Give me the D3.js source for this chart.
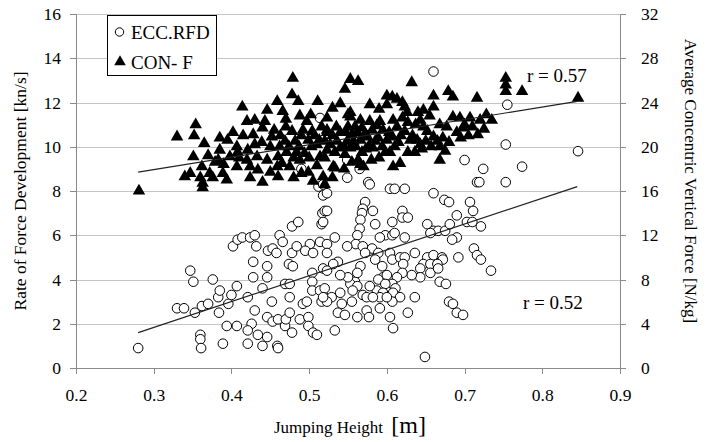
<!DOCTYPE html>
<html>
<head>
<meta charset="utf-8">
<script src="https://cdn.jsdelivr.net/npm/d3@7"></script>
<style>
    body { margin: 0; background: #fff; }
    svg text { font-family: "Liberation Serif", "Times New Roman", serif; fill: #000; }
    .grid line { stroke: #c4c4c4; stroke-width: 1; }
    .axis path, .axis line { stroke: #8a8a8a; stroke-width: 1; shape-rendering: crispEdges; }
    .axis text { font-size: 17.5px; font-family: "Liberation Serif", serif; }
</style>
</head>
<body>
<div id="chart"></div>
<script>
// ECC.RFD: jumping height [m], rate of force development [kN/s] (left axis)
const eccPoints = [
    [0.28,0.9],[0.347,4.4],[0.351,3.9],[0.33,2.7],[0.339,2.7],[0.353,2.5],[0.362,2.8],[0.37,2.9],[0.376,4.0],
    [0.383,3.2],[0.385,3.5],[0.384,2.5],[0.396,2.9],[0.40,3.3],[0.407,3.7],[0.36,1.5],[0.36,1.3],[0.361,0.9],
    [0.389,1.1],[0.394,1.9],[0.407,1.9],[0.402,5.5],[0.408,5.8],[0.414,5.9],[0.424,5.9],[0.43,6.0],[0.432,5.5],
    [0.428,4.8],[0.428,4.1],[0.421,3.2],[0.43,2.6],[0.426,2.0],[0.421,1.7],[0.434,1.5],[0.421,1.1],[0.44,1.0],
    [0.446,1.4],[0.44,3.6],[0.446,2.3],[0.452,3.0],[0.446,4.6],[0.446,4.1],[0.447,5.3],[0.453,5.4],[0.458,5.2],
    [0.462,6.0],[0.466,5.7],[0.453,2.1],[0.46,2.2],[0.459,1.0],[0.46,0.9],[0.469,1.9],[0.47,2.2],[0.475,2.5],
    [0.478,1.6],[0.469,3.8],[0.475,3.8],[0.475,3.2],[0.474,4.7],[0.479,4.6],[0.478,5.2],[0.484,5.5],[0.478,6.4],
    [0.486,6.6],[0.488,2.2],[0.492,2.9],[0.497,3.0],[0.499,2.3],[0.499,1.9],[0.505,1.6],[0.51,1.5],[0.501,5.6],
    [0.495,5.3],[0.505,5.2],[0.504,4.3],[0.504,3.9],[0.504,3.5],[0.514,5.7],[0.516,6.5],[0.517,7.0],[0.52,7.1],
    [0.518,7.8],[0.512,8.2],[0.518,4.5],[0.514,3.5],[0.516,3.0],[0.52,3.2],
    [0.70,9.4],[0.716,8.4],[0.549,8.6],[0.576,8.4],[0.604,8.1],[0.61,8.1],[0.623,8.1],[0.66,7.9],[0.674,7.6],
    [0.68,7.5],[0.707,7.5],[0.711,7.1],[0.69,6.9],[0.69,5.9],[0.703,6.6],[0.523,7.9],[0.518,8.3],[0.523,7.1],
    [0.518,6.6],[0.572,7.5],[0.569,7.2],[0.568,7.0],[0.566,6.7],[0.565,6.3],[0.582,7.1],[0.562,6.0],[0.56,5.6],
    [0.569,5.5],[0.585,6.5],[0.62,7.1],[0.62,6.8],[0.627,6.8],[0.607,6.6],[0.598,6.0],[0.607,6.0],[0.61,6.1],
    [0.623,5.9],[0.591,5.9],[0.533,5.9],[0.523,5.6],[0.549,5.5],[0.523,5.2],[0.581,5.4],[0.589,5.2],[0.572,5.2],
    [0.585,4.9],[0.604,5.2],[0.607,4.9],[0.617,5.0],[0.623,5.0],[0.636,5.2],[0.652,6.5],[0.66,6.2],[0.666,6.2],
    [0.675,6.2],[0.656,6.1],[0.681,6.5],[0.684,5.8],[0.692,5.0],[0.652,5.0],[0.66,5.1],[0.671,5.0],[0.672,4.9],
    [0.647,4.7],[0.656,4.7],[0.665,4.7],[0.643,4.5],[0.643,4.1],[0.656,4.3],[0.666,4.5],[0.668,3.9],[0.676,3.8],
    [0.632,4.2],[0.621,4.7],[0.62,4.3],[0.613,4.1],[0.607,3.8],[0.611,3.6],[0.608,3.4],[0.617,3.2],[0.607,3.0],
    [0.636,3.2],[0.627,2.5],[0.604,2.3],[0.608,1.8],[0.649,0.5],[0.68,3.0],[0.685,2.9],[0.69,2.5],[0.698,2.4],
    [0.594,4.6],[0.595,4.1],[0.589,4.0],[0.6,4.2],[0.598,3.8],[0.587,3.5],[0.595,3.4],[0.591,3.2],[0.6,3.2],
    [0.591,2.7],[0.578,3.7],[0.569,3.3],[0.574,3.2],[0.582,3.2],[0.559,3.9],[0.553,3.8],[0.562,3.7],[0.556,3.5],
    [0.566,4.6],[0.562,4.3],[0.55,4.1],[0.54,4.2],[0.537,4.8],[0.531,4.7],[0.523,4.4],[0.52,3.6],[0.529,3.2],
    [0.523,3.0],[0.542,2.9],[0.537,2.5],[0.546,2.4],[0.562,2.3],[0.574,2.6],[0.577,2.3],[0.533,1.7],[0.518,3.2],
    [0.54,3.4],[0.555,3.0],
    [0.753,10.1],[0.846,9.8],[0.774,9.1],[0.724,9.0],[0.719,8.4],[0.753,8.4],[0.71,6.6],[0.721,6.4],[0.712,5.4],
    [0.716,5.1],[0.721,4.9],[0.734,4.4],[0.755,11.9],[0.66,13.4],[0.578,8.3],[0.565,9.0],[0.514,11.3],[0.549,9.4],
    [0.49,9.0]
];

// CON-F: jumping height [m], average concentric vertical force [N/kg] (right axis)
const conPoints = [
    [0.281,16.0],[0.33,20.9],[0.352,21.0],[0.354,22.0],[0.351,19.1],[0.34,17.3],[0.347,17.6],[0.362,18.2],
    [0.36,17.2],[0.363,16.7],[0.363,16.3],[0.372,17.6],[0.379,18.6],[0.385,19.7],[0.385,20.8],[0.383,18.8],
    [0.376,17.2],[0.389,17.6],[0.394,17.0],[0.398,19.1],[0.402,21.3],[0.407,20.0],[0.408,19.5],[0.407,18.2],
    [0.414,23.6],[0.421,19.7],[0.42,18.8],[0.424,18.2],[0.424,17.2],[0.428,21.1],[0.43,22.4],[0.433,19.1],
    [0.434,17.9],[0.44,16.8],[0.446,23.3],[0.443,22.3],[0.44,21.7],[0.439,20.4],[0.446,18.8],[0.45,17.7],
    [0.45,20.0],[0.452,20.9],[0.459,24.1],[0.466,23.2],[0.462,20.0],[0.46,19.1],[0.459,18.2],[0.46,17.3],
    [0.469,20.5],[0.471,19.5],[0.475,18.2],[0.479,26.2],[0.478,24.7],[0.486,24.1],[0.478,21.4],[0.482,20.5],
    [0.484,19.5],[0.488,18.8],[0.492,21.5],[0.497,22.3],[0.499,20.6],[0.499,17.7],[0.504,21.4],[0.51,20.2],
    [0.511,24.1],[0.514,19.1],[0.518,17.3],[0.523,21.3],
    [0.546,25.2],[0.553,26.1],[0.563,25.9],[0.55,22.9],[0.523,22.6],
    [0.632,25.8],[0.578,23.8],[0.553,23.1],[0.607,24.5],[0.613,24.3],[0.62,24.0],[0.623,23.6],[0.6,23.8],
    [0.626,23.1],[0.66,24.6],[0.66,23.6],[0.647,23.3],[0.64,23.1],[0.679,25.0],[0.685,24.5],[0.716,24.4],
    [0.685,22.7],[0.694,22.6],[0.707,22.6],[0.72,22.4],[0.735,22.4],[0.698,21.7],[0.705,21.0],[0.717,21.1],
    [0.668,22.0],[0.677,21.8],[0.66,20.9],[0.665,20.5],[0.668,20.0],[0.668,18.8],[0.643,22.4],[0.647,21.8],
    [0.652,21.4],[0.639,20.6],[0.643,20.2],[0.636,19.5],[0.627,19.5],[0.63,20.6],[0.623,21.4],[0.627,22.2],
    [0.608,22.4],[0.613,21.8],[0.607,20.9],[0.61,20.0],[0.604,19.5],[0.608,18.2],[0.617,18.5],[0.591,22.3],
    [0.595,21.5],[0.589,20.8],[0.594,20.0],[0.598,19.5],[0.578,22.3],[0.581,21.5],[0.575,20.9],[0.578,20.2],
    [0.582,19.9],[0.566,22.4],[0.568,21.7],[0.562,21.3],[0.566,20.6],[0.56,20.0],[0.568,19.5],[0.563,18.8],
    [0.57,18.2],[0.553,22.7],[0.55,21.8],[0.555,21.1],[0.549,20.5],[0.553,19.9],[0.546,19.3],[0.54,21.3],
    [0.536,20.5],[0.54,19.9],[0.533,19.5],[0.531,18.2],[0.523,21.5],[0.52,20.5],[0.523,19.7],[0.533,18.1],
    [0.566,18.4],
    [0.753,26.2],[0.753,25.6],[0.753,25.0],[0.774,25.0],[0.846,24.4],
    // inside the dense band
    [0.455,21.5],[0.463,21.0],[0.47,21.8],[0.474,20.0],[0.48,19.0],[0.487,20.0],[0.49,21.0],[0.494,19.4],
    [0.5,19.0],[0.503,20.0],[0.507,21.0],[0.513,20.6],[0.516,21.8],[0.52,19.0],[0.527,20.2],[0.53,21.0],
    [0.535,21.8],[0.545,20.0],[0.547,21.3],[0.557,20.5],[0.559,21.8],[0.572,21.2],[0.573,19.8],[0.585,20.5],
    [0.587,21.9],[0.6,20.6],[0.603,21.3],[0.615,20.4],[0.618,21.0],[0.62,22.6],[0.633,21.0],[0.637,22.0],
    [0.645,19.8],[0.65,20.5],[0.655,22.8],[0.657,20.0],[0.672,20.8],[0.675,19.6],[0.68,20.4],[0.69,21.3],
    [0.695,20.8],[0.7,22.0],[0.71,21.8],[0.725,21.6],[0.728,22.9],[0.47,22.5],[0.488,22.8],[0.502,22.9],
    [0.53,23.5],[0.54,23.9],[0.59,23.4],[0.6,24.6],[0.58,18.8],[0.59,19.0],[0.555,18.6],[0.545,18.0],
    [0.51,18.3],[0.49,17.6],[0.48,17.2],[0.465,18.5],[0.43,20.2],[0.415,21.0],[0.42,22.3],[0.41,19.0],
    [0.395,20.6],[0.39,18.4],[0.37,19.2],[0.365,20.3],[0.505,16.9],[0.52,16.6],[0.53,17.2]
];

// Linear trend lines (endpoints)
const eccTrend = [[0.28, 1.6], [0.845, 8.2]];
const conTrend = [[0.28, 17.7], [0.845, 24.1]];

const xTicks = [0.2, 0.3, 0.4, 0.5, 0.6, 0.7, 0.8, 0.9];
const yLeftTicks = [0, 2, 4, 6, 8, 10, 12, 14, 16];
const yRightTicks = [0, 4, 8, 12, 16, 20, 24, 28, 32];

const width = 706, height = 442;
const margin = { top: 14, right: 86, bottom: 74, left: 76 };
const innerW = width - margin.left - margin.right;
const innerH = height - margin.top - margin.bottom;

const svg = d3.select('#chart')
    .append('svg')
    .attr('width', width)
    .attr('height', height);

const x = d3.scaleLinear().domain([0.2, 0.9]).range([margin.left, margin.left + innerW]);
const yLeft = d3.scaleLinear().domain([0, 16]).range([margin.top + innerH, margin.top]);
const yRight = d3.scaleLinear().domain([0, 32]).range([margin.top + innerH, margin.top]);

// Gridlines
svg.append('g')
    .attr('class', 'grid')
    .selectAll('line')
    .data(yLeftTicks.filter(d => d > 0))
    .join('line')
    .attr('x1', margin.left)
    .attr('x2', margin.left + innerW)
    .attr('y1', d => Math.round(yLeft(d)) + 0.5)
    .attr('y2', d => Math.round(yLeft(d)) + 0.5);

// Axes
svg.append('g')
    .attr('class', 'axis')
    .attr('transform', `translate(${margin.left},0)`)
    .call(d3.axisLeft(yLeft).tickValues(yLeftTicks).tickFormat(d3.format('d')).tickSizeOuter(0).tickSize(6).tickPadding(9));

svg.append('g')
    .attr('class', 'axis')
    .attr('transform', `translate(${margin.left + innerW},0)`)
    .call(d3.axisRight(yRight).tickValues(yRightTicks).tickFormat(d3.format('d')).tickSizeOuter(0).tickSize(6).tickPadding(15));

svg.append('g')
    .attr('class', 'axis')
    .attr('transform', `translate(0,${margin.top + innerH})`)
    .call(d3.axisBottom(x).tickValues(xTicks).tickFormat(d3.format('.1f')).tickSizeOuter(0).tickSize(6).tickPadding(15));

// ECC.RFD circles
svg.append('g')
    .selectAll('circle')
    .data(eccPoints)
    .join('circle')
    .attr('cx', d => x(d[0]))
    .attr('cy', d => yLeft(d[1]))
    .attr('r', 4.8)
    .attr('fill', '#fff')
    .attr('stroke', '#000')
    .attr('stroke-width', 1);

// CON-F triangles
const tri = d3.symbol(d3.symbolTriangle, 68);
svg.append('g')
    .selectAll('path')
    .data(conPoints)
    .join('path')
    .attr('d', tri)
    .attr('transform', d => `translate(${x(d[0])},${yRight(d[1])})`)
    .attr('fill', '#000');

// Trend lines
const line = d3.line();
svg.append('path')
    .attr('d', line(eccTrend.map(d => [x(d[0]), yLeft(d[1])])))
    .attr('fill', 'none')
    .attr('stroke', '#222')
    .attr('stroke-width', 1.2);
svg.append('path')
    .attr('d', line(conTrend.map(d => [x(d[0]), yRight(d[1])])))
    .attr('fill', 'none')
    .attr('stroke', '#222')
    .attr('stroke-width', 1.2);

// r labels
svg.append('text').attr('x', 527).attr('y', 82).style('font-size', '19px').text('r  = 0.57');
svg.append('text').attr('x', 523).attr('y', 309).style('font-size', '19px').text('r  = 0.52');

// Legend
const legend = svg.append('g');
legend.append('rect')
    .attr('x', 107.5).attr('y', 15.5)
    .attr('width', 109).attr('height', 60)
    .attr('fill', '#fff').attr('stroke', '#000').attr('stroke-width', 1);
legend.append('circle')
    .attr('cx', 119.5).attr('cy', 32).attr('r', 4.2)
    .attr('fill', '#fff').attr('stroke', '#000');
legend.append('text').attr('x', 131).attr('y', 39).style('font-size', '19px').text('ECC.RFD');
legend.append('path')
    .attr('d', d3.symbol(d3.symbolTriangle, 58))
    .attr('transform', 'translate(120,62)')
    .attr('fill', '#000');
legend.append('text').attr('x', 131).attr('y', 69).style('font-size', '19px').text('CON- F');

// Axis titles
svg.append('text')
    .attr('transform', `translate(26,${margin.top + innerH / 2}) rotate(-90)`)
    .attr('text-anchor', 'middle')
    .style('font-size', '17.5px')
    .text('Rate of Force Development [kn/s]');

svg.append('text')
    .attr('transform', `translate(685,${margin.top + innerH / 2 - 10}) rotate(90)`)
    .attr('text-anchor', 'middle')
    .style('font-size', '17px')
    .text('Average Concentric Vertical Force [N/kg]');

const xTitle = svg.append('text')
    .attr('x', 274)
    .attr('y', 433);
xTitle.append('tspan').style('font-size', '17px').text('Jumping Height ');
xTitle.append('tspan').attr('dx', 4).style('font-size', '24px').text('[m]');
</script>
</body>
</html>
